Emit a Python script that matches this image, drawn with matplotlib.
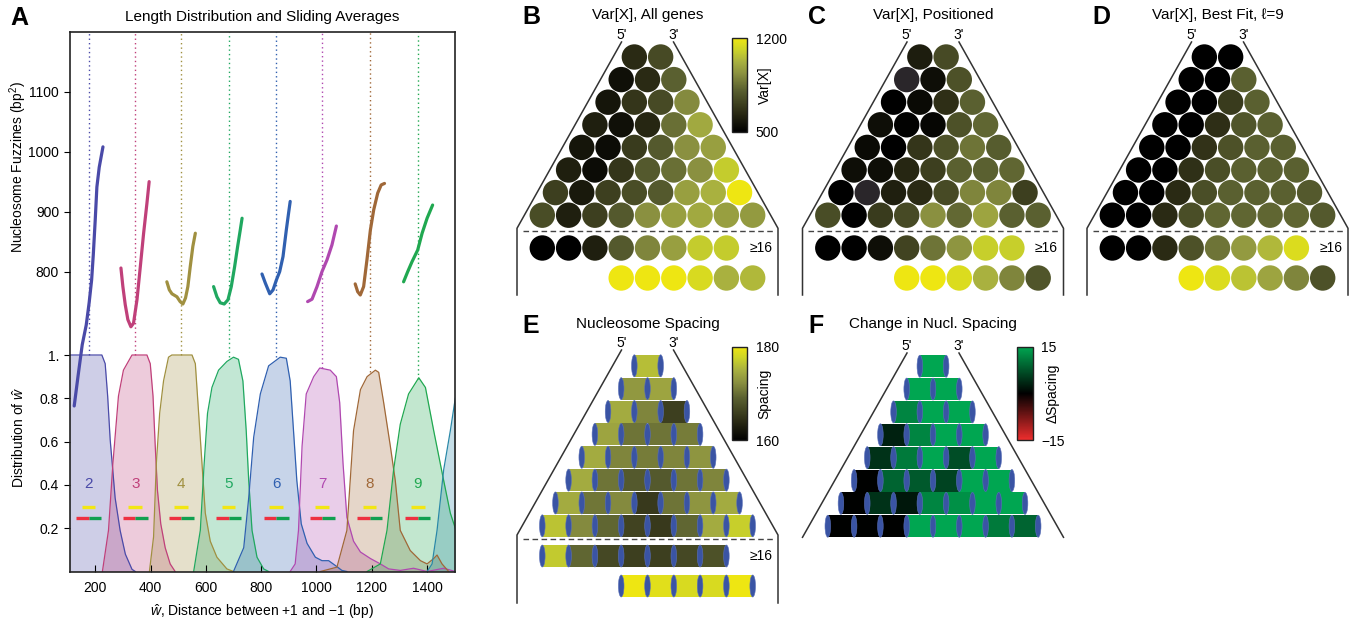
import numpy as np
import matplotlib
matplotlib.use('Agg')
import matplotlib.pyplot as plt
from matplotlib.patches import Circle, Rectangle, Ellipse
from matplotlib.collections import PatchCollection
from matplotlib.colors import LinearSegmentedColormap, Normalize

plt.rcParams['font.family'] = ['Liberation Sans', 'DejaVu Sans']
plt.rcParams['mathtext.fontset'] = 'custom'
plt.rcParams['mathtext.rm'] = 'Liberation Sans'
plt.rcParams['mathtext.it'] = 'Liberation Sans:italic'
plt.rcParams['font.size'] = 10

# ---------------- panel A data ----------------
n_labels = [2, 3, 4, 5, 6, 7, 8, 9]
n_colors = ['#4a4aa8', '#c0407a', '#a09040', '#20a860', '#3060b0', '#b048b0', '#a06838', '#20a850']
peak_x = [176, 345, 511, 682, 855, 1021, 1192, 1366]
peak_y = [1.0, 1.0, 1.0, 0.99, 0.99, 0.94, 0.92, 0.89]

dist_x2 = [100, 150, 200, 224, 236, 245, 254, 272, 290, 309, 333, 345]
dist_y2 = [1, 1, 1, 1, 0.96, 0.81, 0.61, 0.34, 0.19, 0.08, 0.01, 0]
dist_x3 = [226, 248, 264, 284, 302, 333, 387, 399, 409, 417, 425, 437, 453, 471, 489]
dist_y3 = [0, 0.19, 0.5, 0.81, 0.93, 1.0, 1.0, 0.96, 0.81, 0.58, 0.375, 0.22, 0.11, 0.035, 0.0]
dist_x4 = [396, 411, 421, 433, 447, 465, 477, 550, 562, 574, 586, 598, 616, 640, 676, 700]
dist_y4 = [0, 0.16, 0.5, 0.73, 0.88, 0.99, 1, 1, 0.96, 0.73, 0.5, 0.27, 0.14, 0.066, 0.012, 0]
dist_x5 = [556, 580, 594, 606, 622, 646, 676, 700, 718, 734, 746, 755, 767, 785, 809, 827]
dist_y5 = [0, 0.19, 0.5, 0.73, 0.85, 0.93, 0.97, 0.99, 0.98, 0.88, 0.65, 0.42, 0.19, 0.066, 0.012, 0]
dist_x6 = [700, 737, 755, 773, 797, 827, 869, 891, 905, 917, 929, 945, 966, 996, 1020, 1044, 1068, 1092, 1110]
dist_y6 = [0, 0.11, 0.34, 0.62, 0.82, 0.95, 0.99, 0.985, 0.88, 0.65, 0.42, 0.22, 0.13, 0.066, 0.05, 0.05, 0.028, 0.005, 0]
dist_x7 = [905, 923, 935, 948, 963, 990, 1012, 1050, 1072, 1084, 1096, 1110, 1134, 1159, 1195, 1231, 1261, 1303, 1351, 1400, 1460, 1502]
dist_y7 = [0, 0.035, 0.19, 0.58, 0.82, 0.9, 0.94, 0.93, 0.9, 0.78, 0.5, 0.25, 0.14, 0.09, 0.06, 0.035, 0.012, 0.005, 0.015, 0, 0.015, 0]
dist_x8 = [1014, 1074, 1110, 1134, 1159, 1183, 1213, 1225, 1243, 1267, 1285, 1303, 1339, 1376, 1400, 1424, 1436, 1454, 1478]
dist_y8 = [0, 0.02, 0.19, 0.65, 0.84, 0.9, 0.93, 0.92, 0.78, 0.58, 0.42, 0.19, 0.097, 0.05, 0.035, 0.06, 0.076, 0.035, 0]
dist_x9 = [1183, 1231, 1255, 1279, 1303, 1333, 1370, 1394, 1424, 1460, 1484, 1502]
dist_y9 = [0, 0.035, 0.19, 0.47, 0.68, 0.82, 0.895, 0.85, 0.65, 0.42, 0.27, 0.2]
dist_x10 = [1400, 1418, 1436, 1460, 1484, 1502]
dist_y10 = [0, 0.035, 0.19, 0.47, 0.65, 0.8]

fuzz_x2 = [124, 138.5, 153, 167.5, 178, 187, 193, 200, 206, 214.5, 228]
fuzz_y2 = [576, 628, 678, 711, 748, 786, 828, 886, 941, 974, 1008]
fuzz_x3 = [293, 300, 308.5, 318, 329, 338.5, 351, 363, 375, 387, 395]
fuzz_y3 = [806, 775, 745, 720, 708, 714, 753, 808, 864, 914, 950]
fuzz_x4 = [459, 468, 477.5, 495.5, 507, 517, 526.5, 535, 543.5, 553, 562]
fuzz_y4 = [783, 769.5, 763, 758, 750, 746, 756, 775, 808, 842, 864]
fuzz_x5 = [628, 640, 652, 666.5, 680, 692, 704, 715, 724.5, 731]
fuzz_y5 = [775, 758, 748, 746, 753, 775, 808, 842, 869.5, 889]
fuzz_x6 = [803, 815, 831, 843, 855, 867, 879, 891, 899, 905]
fuzz_y6 = [796, 781, 763, 769.5, 786, 800, 825, 869.5, 897, 917]
fuzz_x7 = [968, 984, 1002, 1020, 1038, 1056, 1072]
fuzz_y7 = [750, 754, 775, 800, 819.5, 844.5, 876]
fuzz_x8 = [1140, 1149, 1158.5, 1170.5, 1182.5, 1195, 1207, 1221.5, 1234, 1246]
fuzz_y8 = [779.5, 766.5, 761, 775, 819.5, 869.5, 903, 931, 944.5, 947]
fuzz_x9 = [1315, 1330, 1345.5, 1366, 1382, 1400, 1420]
fuzz_y9 = [783, 800, 816.5, 836, 864, 889, 911]

# ---------------- panels B-D: Var[X] ----------------
varB_rows = [[640, 745], [556, 640, 815], [570, 675, 745, 920], [605, 556, 626, 850, 1004],
             [570, 542, 696, 794, 934, 976], [605, 542, 675, 794, 850, 934, 1095],
             [710, 584, 710, 752, 794, 976, 1025, 1200],
             [752, 605, 710, 794, 934, 976, 1004, 976, 962]]
varB_16 = [500, 500, 605, 794, 906, 976, 1095, 1095]
varB_last = [1200, 1200, 1200, 1144, 1025, 1046]

nan = np.nan
varC_rows = [[598, 745], [nan, 549, 766], [500, 535, 654, 815], [549, 507, 521, 766, 829],
             [535, 500, 675, 766, 864, 801], [549, 549, 626, 710, 815, 815, 829],
             [500, nan, 605, 640, 745, 906, 906, 710],
             [752, 500, 696, 745, 934, 836, 990, 815, 815]]
varC_16 = [500, 500, 549, 724, 864, 948, 1102, 1102]
varC_last = [1200, 1200, 1151, 1025, 906, 780]

varD_rows = [[500, 500], [500, 500, 815], [500, 500, 696, 815], [500, 500, 654, 780, 815],
             [500, 500, 668, 766, 815, 815], [500, 500, 661, 759, 815, 815, 815],
             [500, 500, 640, 759, 815, 815, 815, 794],
             [500, 500, 640, 759, 829, 829, 829, 829, 794]]
varD_16 = [500, 500, 640, 766, 864, 962, 1046, 1151]
varD_last = [1200, 1151, 1074, 990, 906, 766]

# ---------------- panels E-F: spacing ----------------
spE_rows = [[176.0], [173.0, 174.0], [174.6, 171.6, 166.0], [174.0, 170.4, 170.4, 171.0],
            [174.6, 171.6, 171.0, 171.6, 172.8], [174.6, 170.4, 168.4, 168.4, 170.4, 171.6],
            [174.6, 170.6, 172.0, 165.4, 170.4, 172.8, 174.6],
            [176.4, 172.0, 169.4, 166.4, 165.4, 169.4, 174.6, 177.2]]
spE_16 = [176.8, 169.4, 166.8, 166.0, 166.0, 166.8, 167.6]
spE_last = [180.0, 179.0, 178.4, 178.4, 180.0]

dspF_rows = [[15], [15, 15], [12, 15, 15], [3, 12, 15, 15], [4.5, 11, 15, 7, 15],
             [0, 9, 8, 6, 15, 15], [0, 4.5, 2, 12, 13, 15, 15], [0, 0, 0, 15, 15, 15, 11, 9]]

# ---------------- colormaps ----------------
var_cmap = LinearSegmentedColormap.from_list('var', [(0, '#000000'), (0.2, '#2a2a14'), (0.45, '#5a6030'),
                                                     (0.62, '#8a9040'), (0.75, '#a8b040'), (0.88, '#ccd428'),
                                                     (1.0, '#eee612')]).with_extremes(bad='#2a262a')
dsp_cmap = LinearSegmentedColormap.from_list('dsp', [(0, '#ee2d2d'), (0.5, '#000000'), (1, '#00a651')])
var_norm = Normalize(500, 1200)
sp_norm = Normalize(160, 180)
dsp_norm = Normalize(-15, 15)

W, H = 1360, 621
fig = plt.figure(figsize=(13.6, 6.21), dpi=100)
fig.patch.set_facecolor('white')

# ================= panel A =================
box = [69.5 / W, (H - 571.5) / H, 385.8 / W, 539.5 / H]
axA = fig.add_axes(box)
XL = (107, 1502)
axA.set_xlim(*XL)
axA.set_ylim(0, 2.492)

dist_x = [dist_x2, dist_x3, dist_x4, dist_x5, dist_x6, dist_x7, dist_x8, dist_x9]
dist_y = [dist_y2, dist_y3, dist_y4, dist_y5, dist_y6, dist_y7, dist_y8, dist_y9]
for xs, ys, c in zip(dist_x + [dist_x10], dist_y + [dist_y10], n_colors + ['#2a88a8']):
    axA.fill_between(xs, ys, color=c, alpha=0.27, lw=0)
    axA.plot(xs, ys, color=c, lw=0.9)

for n, px, py, c in zip(n_labels, peak_x, peak_y, n_colors):
    axA.plot([px, px], [py, 2.492], color=c, lw=1.0, ls=(0, (1, 2.2)))
    axA.text(px, 0.406, str(n), color=c, ha='center', va='center', fontsize=11)
    axA.plot([px - 25, px + 25], [0.298, 0.298], color='#f2e614', lw=2.4, solid_capstyle='butt')
    axA.plot([px - 45, px], [0.247, 0.247], color='#ee3040', lw=2.4, solid_capstyle='butt')
    axA.plot([px, px + 45], [0.247, 0.247], color='#10a050', lw=2.4, solid_capstyle='butt')

axA.set_yticks([0.2, 0.4, 0.6, 0.8, 1.0])
axA.set_yticklabels(['0.2', '0.4', '0.6', '0.8', '1.'])
axA.set_xticks([200, 400, 600, 800, 1000, 1200, 1400])
axA.tick_params(axis='y', direction='out', length=4, labelsize=10)
axA.tick_params(axis='x', direction='in', length=5, labelsize=10, pad=7)
for sp in axA.spines.values():
    sp.set_linewidth(1.2)
    sp.set_color('#222222')

axF = fig.add_axes(box, facecolor='none')
axF.set_xlim(*XL)
axF.set_ylim(300, 1199.5)
fuzz_x = [fuzz_x2, fuzz_x3, fuzz_x4, fuzz_x5, fuzz_x6, fuzz_x7, fuzz_x8, fuzz_x9]
fuzz_y = [fuzz_y2, fuzz_y3, fuzz_y4, fuzz_y5, fuzz_y6, fuzz_y7, fuzz_y8, fuzz_y9]
for xs, ys, c in zip(fuzz_x, fuzz_y, n_colors):
    axF.plot(xs, ys, color=c, lw=2.3, solid_capstyle='round')
axF.set_yticks([800, 900, 1000, 1100])
axF.tick_params(axis='y', direction='out', length=4, labelsize=10)
axF.xaxis.set_visible(False)
for sp in axF.spines.values():
    sp.set_visible(False)

# ================= overlay for B-F and free text =================
ov = fig.add_axes([0, 0, 1, 1], facecolor='none')
ov.set_xlim(0, W)
ov.set_ylim(H, 0)
ov.axis('off')

ov.text(10, 18, 'A', fontsize=18, fontweight='bold', va='center', ha='left')
ov.text(262, 17, 'Length Distribution and Sliding Averages', fontsize=11, ha='center', va='center')
ov.text(18, 167, 'Nucleosome Fuzzines (bp$^2$)', rotation=90, ha='center', va='center', fontsize=10)
ov.text(19, 437, 'Distribution of $\\hat{w}$', rotation=90, ha='center', va='center', fontsize=10)
ov.text(262, 612, '$\\hat{w}$, Distance between +1 and \u22121 (bp)', ha='center', va='center', fontsize=10)

SP = 26.3      # circle / cylinder pitch
R = 12.7
LINE = '#333333'


def frame(cx, ytop, ybot, yend=None, ydash=None):
    for s in (-1, 1):
        xs = [cx + s * 26, cx + s * 130.5]
        ys = [ytop, ybot]
        if yend is not None:
            xs.append(cx + s * 130.5)
            ys.append(yend)
        ov.plot(xs, ys, color=LINE, lw=1.1)
    if ydash is not None:
        ov.plot([cx - 125, cx + 126], [ydash, ydash], color='#444444', lw=1.0, ls=(0, (4, 2.5)))
    ov.text(cx - 26, ytop, "5'", ha='center', va='bottom', fontsize=10)
    ov.text(cx + 26, ytop, "3'", ha='center', va='bottom', fontsize=10)


def header(cx, y, letter, title):
    ov.text(cx - 125, y + 2, letter, fontsize=18, fontweight='bold', va='center', ha='left')
    ov.text(cx, y, title, fontsize=11, ha='center', va='center')


def circle_panel(cx, rows, r16, last):
    pts, vals = [], []
    for k, row in enumerate(rows):
        for j, v in enumerate(row):
            pts.append((cx + (j - (len(row) - 1) / 2) * SP, 57 + k * 22.6))
            vals.append(v)
    for j, v in enumerate(r16):
        pts.append((cx + (j - 4) * SP, 248))
        vals.append(v)
    for j, v in enumerate(last):
        pts.append((cx + (j - 1) * SP, 278))
        vals.append(v)
    pc = PatchCollection([Circle(p, R) for p in pts], cmap=var_cmap, norm=var_norm, edgecolor='none')
    pc.set_array(np.ma.masked_invalid(np.array(vals, dtype=float)))
    ov.add_collection(pc)
    ov.text(cx + 125, 248, '\u226516', ha='right', va='center', fontsize=10)
    return pc


def cyl_panel(cx, y0, rows, cmap, norm, r16=None, last=None, y16=556, ylast=586):
    CH, CAP = 22.0, 5.6
    bodies, vals, caps = [], [], []

    def add_row(y, xl, row):
        for j, v in enumerate(row):
            bodies.append(Rectangle((xl + j * SP, y - CH / 2), SP, CH))
            vals.append(v)
        for j in range(len(row) + 1):
            caps.append(Ellipse((xl + j * SP, y), CAP, CH))

    for k, row in enumerate(rows):
        add_row(y0 + k * 22.86, cx - len(row) * SP / 2, row)
    if r16 is not None:
        add_row(y16, cx - 4 * SP, r16)
        ov.text(cx + 125, y16, '\u226516', ha='right', va='center', fontsize=10)
    if last is not None:
        add_row(ylast, cx - SP, last)
    pc = PatchCollection(bodies, cmap=cmap, norm=norm, edgecolor='none')
    pc.set_array(np.array(vals, dtype=float))
    ov.add_collection(pc)
    ov.add_collection(PatchCollection(caps, facecolor='#3a54a4', edgecolor='#5a70b8', lw=0.4))
    return pc


def cbar(pc, cx, ytop, ticks, labels, label, labx):
    cax = fig.add_axes([(cx + 84.2) / W, 1 - (ytop + 93.5) / H, 15.6 / W, 93.5 / H])
    cb = fig.colorbar(pc, cax=cax)
    cb.set_ticks(ticks)
    cb.set_ticklabels(labels)
    cax.tick_params(length=0, labelsize=10, pad=6)
    cb.outline.set_linewidth(1.0)
    cb.outline.set_edgecolor('#222222')
    cb.set_label(label, fontsize=10)
    cax.yaxis.set_label_coords(labx, 0.5)
    cax.yaxis.label.set_va('center')


cxB, cxC, cxD = 647.5, 933, 1217.5

header(cxB, 15, 'B', 'Var[X], All genes')
frame(cxB, 42, 228.3, 295, 231)
pcB = circle_panel(cxB, varB_rows, varB_16, varB_last)
cbar(pcB, cxB, 38.3, [500, 1200], ['500', '1200'], 'Var[X]', 2.1)

header(cxC, 15, 'C', 'Var[X], Positioned')
frame(cxC, 42, 228.3, 295, 231)
circle_panel(cxC, varC_rows, varC_16, varC_last)

header(cxD, 15, 'D', 'Var[X], Best Fit, \u2113=9')
frame(cxD, 42, 228.3, 295, 231)
circle_panel(cxD, varD_rows, varD_16, varD_last)

header(cxB, 324, 'E', 'Nucleosome Spacing')
frame(cxB, 350, 535, 603, 539.3)
pcE = cyl_panel(cxB, 365.8, spE_rows, var_cmap, sp_norm, spE_16, spE_last)
cbar(pcE, cxB, 346.7, [160, 180], ['160', '180'], 'Spacing', 2.1)

header(cxC, 324, 'F', 'Change in Nucl. Spacing')
frame(cxC, 353, 537.3)
pcF = cyl_panel(cxC, 366.2, dspF_rows, dsp_cmap, dsp_norm)
cbar(pcF, cxC, 346.7, [-15, 15], ['\u221215', '15'], '\u0394Spacing', 2.25)

fig.savefig('out.png', dpi=100, facecolor='white')
